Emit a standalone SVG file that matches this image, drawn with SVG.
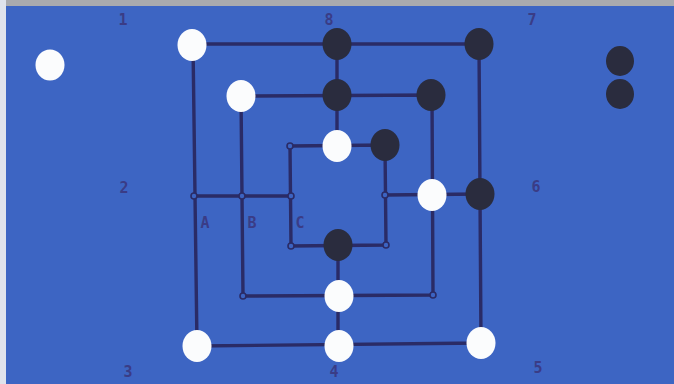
<svg xmlns="http://www.w3.org/2000/svg" width="674" height="384" viewBox="0 0 674 384">
<style>
.ln{stroke:#2a2b66;stroke-width:3.4;fill:none;stroke-linecap:round}
.w{fill:#fbfcfd}
.b{fill:#2a2c3e}
.pt{fill:#3c64c2;stroke:#2a2b66;stroke-width:1.6}
.lbl{font-family:"DejaVu Sans Mono",monospace;font-size:15px;font-weight:bold;fill:#3a3c86;text-anchor:middle}
</style>
<rect x="0" y="0" width="674" height="384" fill="#3d65c3"/>
<rect x="0" y="0" width="674" height="6" fill="#a9aaae"/>
<rect x="0" y="0" width="6" height="384" fill="#dfe3ec"/>
<g id="connectors">
<path class="ln" d="M193,44 L479,44 L481,343 L197,346 Z"/>
<path class="ln" d="M241,96 L432,95 L433,295 L243,296 Z"/>
<path class="ln" d="M290,146 L385,145 L386,245 L291,246 Z"/>
<path class="ln" d="M194,196 L291,196"/>
<path class="ln" d="M385,195 L480,194"/>
<path class="ln" d="M337,44 L337,146"/>
<path class="ln" d="M338,246 L338,346"/>
</g>
<g id="labels">
<text class="lbl" x="123" y="25">1</text>
<text class="lbl" x="329" y="25">8</text>
<text class="lbl" x="532" y="25">7</text>
<text class="lbl" x="124" y="193">2</text>
<text class="lbl" x="536" y="192">6</text>
<text class="lbl" x="128" y="377">3</text>
<text class="lbl" x="334" y="377">4</text>
<text class="lbl" x="538" y="373">5</text>
<text class="lbl" x="205" y="228">A</text>
<text class="lbl" x="252" y="228">B</text>
<text class="lbl" x="300" y="228">C</text>
</g>
<g id="junctions">
<circle class="pt" cx="290" cy="146" r="3"/>
<circle class="pt" cx="194" cy="196" r="3"/>
<circle class="pt" cx="242" cy="196" r="3"/>
<circle class="pt" cx="291" cy="196" r="3"/>
<circle class="pt" cx="385" cy="195" r="3"/>
<circle class="pt" cx="291" cy="246" r="3"/>
<circle class="pt" cx="386" cy="245" r="3"/>
<circle class="pt" cx="243" cy="296" r="3"/>
<circle class="pt" cx="433" cy="295" r="3"/>
</g>
<g id="spare-white"><ellipse class="w" cx="50" cy="65" rx="14.5" ry="15.5"/></g>
<g id="spare-black-1"><ellipse class="b" cx="620" cy="61" rx="14" ry="15"/></g>
<g id="spare-black-2"><ellipse class="b" cx="620" cy="94" rx="14" ry="15"/></g>
<g id="p-outer-tl"><ellipse class="w" cx="192" cy="45" rx="14.5" ry="16"/></g>
<g id="p-outer-t"><ellipse class="b" cx="337" cy="44" rx="14.5" ry="16"/></g>
<g id="p-outer-tr"><ellipse class="b" cx="479" cy="44" rx="14.5" ry="16"/></g>
<g id="p-mid-tl"><ellipse class="w" cx="241" cy="96" rx="14.5" ry="16"/></g>
<g id="p-mid-t"><ellipse class="b" cx="337" cy="95" rx="14.5" ry="16"/></g>
<g id="p-mid-tr"><ellipse class="b" cx="431" cy="95" rx="14.5" ry="16"/></g>
<g id="p-in-t"><ellipse class="w" cx="337" cy="146" rx="14.5" ry="16"/></g>
<g id="p-in-tr"><ellipse class="b" cx="385" cy="145" rx="14.5" ry="16"/></g>
<g id="p-mid-r"><ellipse class="w" cx="432" cy="195" rx="14.5" ry="16"/></g>
<g id="p-outer-r"><ellipse class="b" cx="480" cy="194" rx="14.5" ry="16"/></g>
<g id="p-in-b"><ellipse class="b" cx="338" cy="245" rx="14.5" ry="16"/></g>
<g id="p-mid-b"><ellipse class="w" cx="339" cy="296" rx="14.5" ry="16"/></g>
<g id="p-outer-bl"><ellipse class="w" cx="197" cy="346" rx="14.5" ry="16"/></g>
<g id="p-outer-b"><ellipse class="w" cx="339" cy="346" rx="14.5" ry="16"/></g>
<g id="p-outer-br"><ellipse class="w" cx="481" cy="343" rx="14.5" ry="16"/></g>
</svg>
